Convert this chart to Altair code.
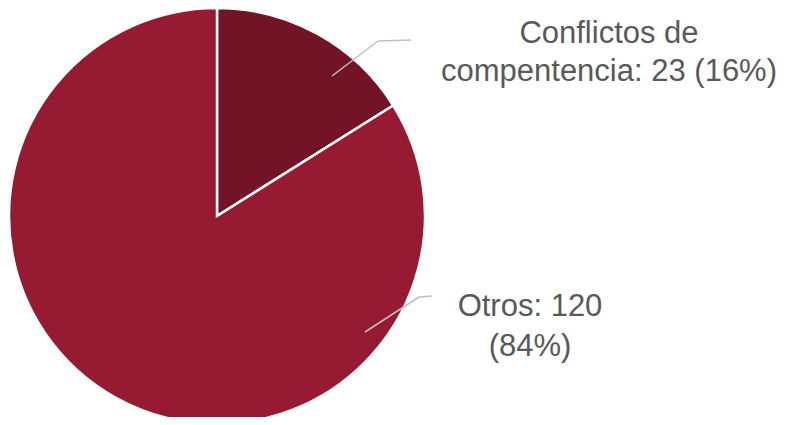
import altair as alt
import pandas as pd

categories = ["Conflictos de compentencia", "Otros"]
values = [23, 120]
percents = [16, 84]
labels = ["Conflictos de\ncompentencia: 23 (16%)", "Otros: 120\n(84%)"]
colors = ["#721426", "#961B32"]

df = pd.DataFrame({"cat": categories, "value": values, "order": [0, 1]})

W, H = 775, 409
CX, CY, R = 209, 208, 208

pie = alt.Chart(df).mark_arc(radius=R, stroke="white", strokeWidth=2.5).encode(
    theta=alt.Theta("value:Q", stack=True),
    order=alt.Order("order:Q"),
    color=alt.Color("cat:N", scale=alt.Scale(domain=categories, range=colors), legend=None),
    x=alt.value(CX),
    y=alt.value(CY),
)

seg_df = pd.DataFrame({"d": [0]})

def seg(x1, y1, x2, y2):
    return alt.Chart(seg_df).mark_rule(color="#BFBFBF", strokeWidth=1.5).encode(
        x=alt.value(x1), y=alt.value(y1), x2=alt.value(x2), y2=alt.value(y2)
    )

def label(text, x, y, lh):
    return alt.Chart(seg_df).mark_text(
        text=text, font="Liberation Sans", fontSize=31, color="#595959",
        align="center", baseline="middle", lineBreak="\n", lineHeight=lh
    ).encode(x=alt.value(x), y=alt.value(y))

layers = [
    pie,
    seg(324, 68, 370, 33), seg(370, 33, 403, 32),
    seg(357, 324, 411, 289), seg(411, 289, 424, 288),
    label(labels[0], 601, 26, 38),
    label(labels[1], 522, 299, 40),
]

chart = alt.layer(*layers).properties(
    width=W, height=H, padding=0, autosize=alt.AutoSizeParams(type="none")
).configure_view(stroke=None)

chart.save("out.html", embed_options={"renderer": "svg", "actions": False})
